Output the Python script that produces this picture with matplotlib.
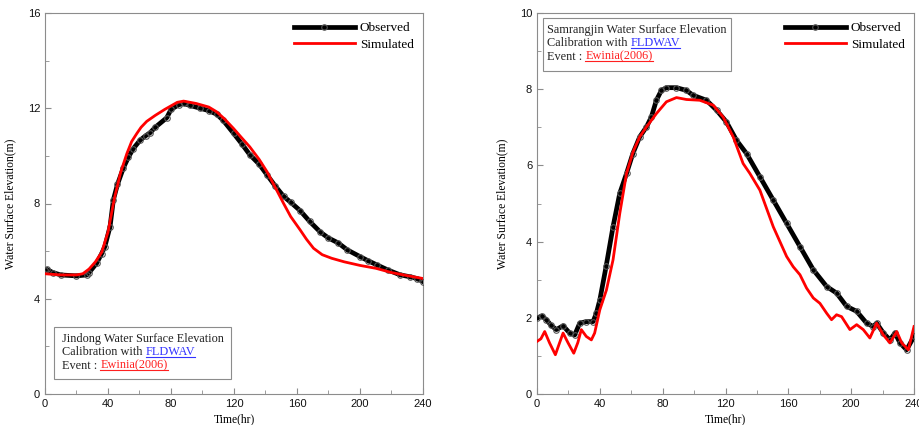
import numpy as np
import matplotlib
matplotlib.use('Agg')
import matplotlib.pyplot as plt
from matplotlib.lines import Line2D

# Jindong (left)
jd_obs_t = [0, 1, 5, 10, 20, 26.5, 28, 32.8, 36, 38, 41.3, 43.4, 46, 49.8, 53, 56, 60.4, 64,
            66.7, 70, 77.3, 80, 85, 88, 92, 98.5, 104, 109, 113, 119.7, 125, 130, 136, 141,
            146, 151.5, 156, 162, 168, 174.8, 180, 186, 192, 200, 205, 210.8, 218, 225.6,
            232, 236, 240]
jd_obs_v = [5.2, 5.24, 5.1, 5.0, 4.96, 5.0, 5.1, 5.49, 5.9, 6.19, 7.03, 8.15, 8.8, 9.5, 9.95,
            10.3, 10.66, 10.85, 10.97, 11.2, 11.6, 11.95, 12.15, 12.2, 12.12, 12.0, 11.9,
            11.75, 11.5, 10.95, 10.5, 10.05, 9.65, 9.2, 8.75, 8.3, 8.05, 7.7, 7.25, 6.8,
            6.55, 6.35, 6.05, 5.77, 5.6, 5.42, 5.2, 5.0, 4.92, 4.85, 4.72]
jd_sim_t = [0, 10, 20, 24, 28, 32, 36, 40, 44, 48, 52, 55, 58.3, 61, 64.6, 70, 76, 80, 84,
            88, 96, 104, 109, 114, 119.7, 125, 130, 136, 141, 146, 151.5, 156, 162, 166,
            170.5, 176, 182, 190, 200, 210, 220, 230, 240]
jd_sim_v = [5.05, 5.0, 5.0, 5.05, 5.25, 5.55, 5.95, 6.8, 8.2, 9.3, 10.1, 10.6, 10.94, 11.2,
            11.45, 11.7, 11.95, 12.1, 12.25, 12.3, 12.2, 12.05, 11.85, 11.55, 11.15, 10.75,
            10.38, 9.85, 9.33, 8.7, 8.0, 7.45, 6.89, 6.5, 6.12, 5.85, 5.7, 5.55, 5.4, 5.28,
            5.1, 4.97, 4.85]

# Samrangjin (right)
sr_obs_t = [0, 3, 6, 9, 12.3, 16.6, 20.8, 24, 27.2, 31.4, 35.7, 37.8, 40, 44, 48.4, 52.7, 57,
            61, 65.4, 69.7, 72.8, 76, 79.2, 82.4, 88.8, 95, 99.4, 107.9, 114.3, 120.6, 127,
            133.4, 141.9, 150.4, 158.9, 167.4, 175.9, 184.4, 190.7, 197.1, 203.5, 209.8,
            214.1, 216.2, 220.5, 224.7, 227.9, 231.1, 235.3, 240]
sr_obs_v = [1.99, 2.05, 1.95, 1.8, 1.69, 1.79, 1.6, 1.55, 1.86, 1.9, 1.9, 2.12, 2.47, 3.35,
            4.39, 5.27, 5.79, 6.31, 6.75, 7.01, 7.27, 7.71, 7.97, 8.04, 8.04, 7.97, 7.84,
            7.71, 7.45, 7.14, 6.66, 6.31, 5.7, 5.09, 4.48, 3.87, 3.26, 2.82, 2.65, 2.3, 2.17,
            1.86, 1.77, 1.86, 1.6, 1.42, 1.6, 1.34, 1.16, 1.51]
sr_sim_t = [0, 2.5, 4.9, 8, 11.7, 14, 16.6, 19.8, 23.4, 26, 28.2, 31.4, 34.6, 36.7, 40, 44.2,
            48.4, 52.7, 57, 61.2, 65.4, 69.7, 76, 82.4, 88.8, 95.1, 103.6, 112.2, 118.5,
            124.9, 131.2, 135.5, 141.9, 150.4, 158.9, 163.1, 167.4, 171.6, 175.9, 180.1,
            184.4, 187.5, 190.7, 193.9, 199.2, 203.5, 207.7, 211.9, 216.2, 220.5, 224.7,
            229, 232.2, 236.4, 240]
sr_sim_v = [1.38, 1.45, 1.64, 1.34, 1.03, 1.3, 1.6, 1.34, 1.07, 1.35, 1.69, 1.51, 1.42, 1.6,
            2.21, 2.73, 3.52, 4.74, 5.79, 6.36, 6.75, 7.01, 7.36, 7.67, 7.78, 7.73, 7.71,
            7.58, 7.27, 6.75, 6.05, 5.79, 5.35, 4.39, 3.61, 3.34, 3.13, 2.78, 2.52, 2.38,
            2.12, 1.95, 2.08, 2.03, 1.69, 1.82, 1.69, 1.47, 1.86, 1.55, 1.34, 1.64, 1.34,
            1.16, 1.77]

serif = 'Liberation Serif'
sans = 'Liberation Sans'
grey = '#8c8c8c'

fig = plt.figure(figsize=(9.2, 4.25), dpi=100)
W, H = 920, 425


def make_axes(left, right, top, bottom):
    return fig.add_axes([left / W, 1 - bottom / H, (right - left) / W, (bottom - top) / H])


def style(ax, ymax, ystep, yminor):
    ax.set_xlim(0, 240)
    ax.set_ylim(0, ymax)
    ax.set_xticks(np.arange(0, 241, 40))
    ax.set_xticks(np.arange(0, 241, 20), minor=True)
    ax.set_yticks(np.arange(0, ymax + 0.1, ystep))
    ax.set_yticks(np.arange(0, ymax + 0.1, yminor), minor=True)
    for s in ax.spines.values():
        s.set_color(grey)
        s.set_linewidth(0.8)
    ax.tick_params(which='both', direction='in', colors=grey, labelcolor='#111111',
                   labelsize=8, top=False, right=False)
    ax.tick_params(which='major', length=4)
    ax.tick_params(which='minor', length=3)
    for lab in ax.get_xticklabels() + ax.get_yticklabels():
        lab.set_family(sans)
    ax.set_xlabel('Time(hr)', family=serif, fontsize=8.4, labelpad=3)
    ax.set_ylabel('Water Surface Elevation(m)', family=serif, fontsize=8.4, labelpad=8)


def plot_series(ax, ot, ov, st, sv):
    ax.plot(ot, ov, color='black', lw=3.4, marker='o', ms=4, mfc='none',
            mec='#555555', mew=0.8, label='Observed', zorder=3)
    ax.plot(st, sv, color='#ff0000', lw=2, label='Simulated', zorder=4)
    leg = ax.legend(loc='upper right', frameon=False, numpoints=1, handlelength=4.6,
                    prop={'family': serif, 'size': 9.5}, borderaxespad=0.3,
                    labelspacing=0.3, handletextpad=0.4)
    return leg


ax1 = make_axes(45, 423, 13, 394)
plot_series(ax1, jd_obs_t, jd_obs_v, jd_sim_t, jd_sim_v)
style(ax1, 16, 4, 2)

ax2 = make_axes(537, 914, 13, 394)
plot_series(ax2, sr_obs_t, sr_obs_v, sr_sim_t, sr_sim_v)
style(ax2, 10, 2, 1)

fig.canvas.draw()
renderer = fig.canvas.get_renderer()


def info_box(x0, y0, x1, y1, title, pad):
    # frame in pixel coordinates (from top-left)
    rect = plt.Rectangle((x0 / W, 1 - y1 / H), (x1 - x0) / W, (y1 - y0) / H,
                         transform=fig.transFigure, fill=True, facecolor='white',
                         edgecolor=grey, lw=0.8, zorder=5)
    fig.add_artist(rect)
    lines = [[(title, '#222222', False)],
             [('Calibration with ', '#222222', False), ('FLDWAV', '#3333ff', True)],
             [('Event : ', '#222222', False), ('Ewinia(2006)', '#ff2020', True)]]
    tx = x0 + pad
    ty = y0 + 15
    for row in lines:
        cx = tx
        for s, c, ul in row:
            t = fig.text(cx / W, 1 - ty / H, s, family=serif, fontsize=8.8, color=c,
                         va='baseline', ha='left', zorder=6)
            bb = t.get_window_extent(renderer)
            if ul:
                fig.add_artist(Line2D([cx / W, (cx + bb.width) / W],
                                      [1 - (ty + 1.5) / H, 1 - (ty + 1.5) / H],
                                      transform=fig.transFigure, color=c, lw=0.8,
                                      zorder=6))
            cx += bb.width
        ty += 13.3


info_box(54, 327, 231, 379, 'Jindong Water Surface Elevation', 8)
info_box(543, 18, 731, 71, 'Samrangjin Water Surface Elevation', 4)

fig.savefig('out.png', dpi=100)
